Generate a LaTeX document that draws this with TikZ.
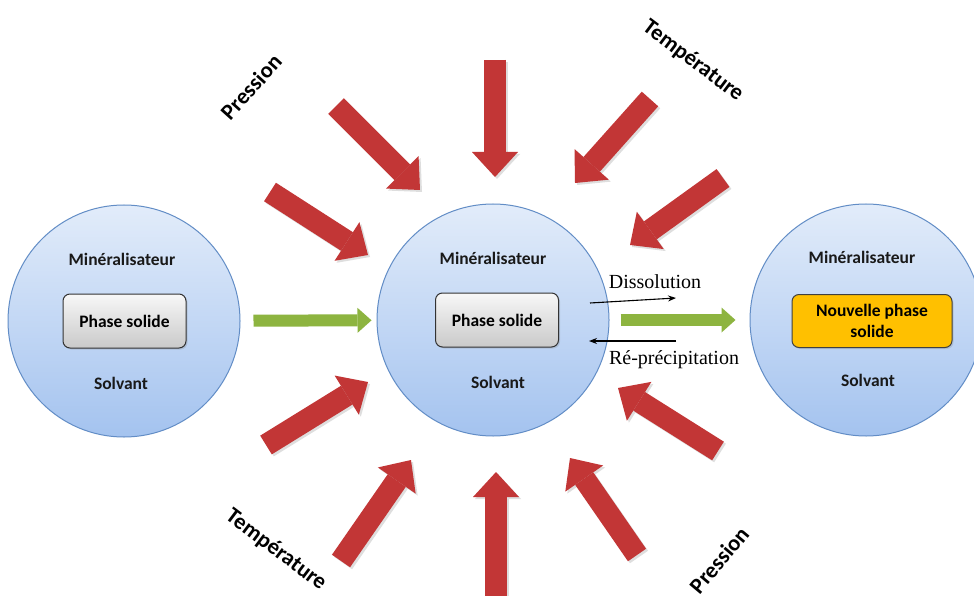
\documentclass[tikz,border=0pt]{standalone}
\usepackage{fontspec}
\setmainfont{Carlito}
\newfontfamily\serifx{Liberation Serif}
\usetikzlibrary{arrows.meta,shadows,calc}
\definecolor{circtop}{HTML}{E2ECFA}
\definecolor{circbot}{HTML}{A4C3EF}
\definecolor{circline}{HTML}{628DC6}
\definecolor{redA}{HTML}{C23636}
\definecolor{greenA}{HTML}{8DB440}
\definecolor{orangeB}{HTML}{FFC000}
\tikzset{
  bubble/.style={circle, minimum size=232pt, inner sep=0pt, top color=circtop, bottom color=circbot, draw=circline, line width=1pt},
  intext/.style={font=\fontsize{17.5}{20}\selectfont\bfseries, text=black!90, inner sep=1pt},
  phasebox/.style={rounded corners=7pt, minimum width=123pt, minimum height=54pt, top color=gray!6, bottom color=gray!42, draw=black!80, line width=1pt, font=\fontsize{17.5}{20}\selectfont\bfseries, drop shadow={opacity=0.25, shadow xshift=1.5pt, shadow yshift=-1.5pt}},
  newbox/.style={rounded corners=7pt, minimum width=160pt, minimum height=53pt, fill=orangeB, draw=black!75, line width=1pt, align=center, font=\fontsize{17.5}{21}\selectfont\bfseries, drop shadow={opacity=0.25, shadow xshift=1.5pt, shadow yshift=-1.5pt}},
  redarrow/.style={draw=redA, line width=22pt, -{Triangle[width=46pt,length=25pt,line width=0pt]}},
  redshadow/.style={draw=black, opacity=0.13, line width=22pt, -{Triangle[width=46pt,length=25pt,line width=0pt]}, transform canvas={xshift=2pt,yshift=-2pt}},
  greenarrow/.style={draw=greenA, line width=12pt, -{Triangle[width=25pt,length=14pt,line width=0pt]}},
  thinarrow/.style={draw=black, line width=1.1pt, -{Stealth[length=8pt,width=6pt]}},
  factor/.style={font=\fontsize{22.5}{24}\selectfont\bfseries, text=black, inner sep=0pt},
  serlabel/.style={font=\serifx\fontsize{20}{22}\selectfont, inner sep=0pt},
}
\begin{document}
\begin{tikzpicture}[x=1pt,y=1pt]
\useasboundingbox (0,0) rectangle (974,-596);
\fill[white] (0,0) rectangle (974,-596);

% circles
\node[bubble] (L) at (124,-321) {};
\node[bubble] (C) at (493,-320) {};
\node[bubble] (R) at (866,-320) {};

% left circle content
\node[intext] (Lm) at (122,-259) {Minéralisateur};
\node[phasebox] (Lb) at (124.5,-321) {Phase solide};
\node[intext] (Ls) at (121,-383) {Solvant};

% center circle content
\node[intext] (Cm) at (493,-258) {Minéralisateur};
\node[phasebox] (Cb) at (497,-320) {Phase solide};
\node[intext] (Cs) at (498,-382) {Solvant};

% right circle content
\node[intext] (Rm) at (862,-257) {Minéralisateur};
\node[newbox] (Rb) at (872,-321) {Nouvelle phase\\solide};
\node[intext] (Rs) at (868,-380) {Solvant};

% red arrow coordinates
\coordinate (t1) at (495,-60);  \coordinate (h1) at (495,-177);
\coordinate (t2) at (336,-106); \coordinate (h2) at (420,-190);
\coordinate (t3) at (270,-192); \coordinate (h3) at (368,-255);
\coordinate (t4) at (650,-99);  \coordinate (h4) at (575,-183);
\coordinate (t5) at (723,-178); \coordinate (h5) at (630,-245);
\coordinate (t6) at (718,-451); \coordinate (h6) at (618,-388);
\coordinate (t7) at (637,-555); \coordinate (h7) at (570,-458);
\coordinate (t8) at (496,-600); \coordinate (h8) at (496,-472);
\coordinate (t9) at (341,-561); \coordinate (h9) at (411,-460);
\coordinate (t10) at (266,-445); \coordinate (h10) at (368,-382);

\foreach \i in {1,...,10} {
  \draw[redshadow] (t\i) -- (h\i);
}
\foreach \i in {1,...,10} {
  \draw[redarrow] (t\i) -- (h\i);
}

% green arrows
\draw[greenarrow, shorten <=13pt, shorten >=5pt] (L) -- (C);
\draw[greenarrow, shorten <=11pt, shorten >=14pt] (C) -- (R);

% dissolution / re-precipitation
\coordinate (d1) at (590,-303); \coordinate (d2) at (676,-298);
\coordinate (r1) at (676,-341); \coordinate (r2) at (589,-341);
\draw[thinarrow] (d1) -- (d2);
\draw[thinarrow] (r1) -- (r2);
\node[serlabel] (diss) at (655,-282) {Dissolution};
\node[serlabel] (repr) at (674,-360) {Ré-précipitation};

% factor labels
\node[factor, rotate=48] (p1) at (251,-87) {Pression};
\node[factor, rotate=-37] (te1) at (693,-61) {Température};
\node[factor, rotate=-37] (te2) at (276,-550) {Température};
\node[factor, rotate=50] (p2) at (719,-560) {Pression};
\end{tikzpicture}
\end{document}
